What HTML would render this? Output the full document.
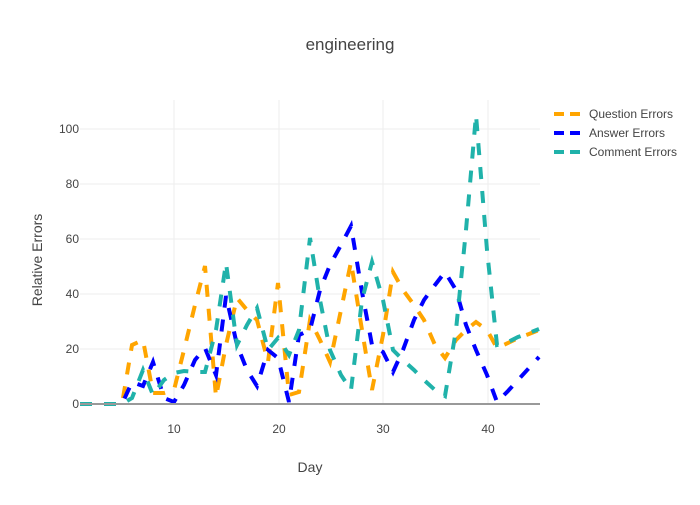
<!DOCTYPE html>
<html><head><meta charset="utf-8"><style>body{margin:0;background:#fff}</style></head><body>
<svg width="700" height="500" xmlns="http://www.w3.org/2000/svg" font-family="'Liberation Sans',sans-serif">
<rect width="700" height="500" fill="#fff"/>
<g stroke="#eee" stroke-width="1">
<line x1="174" y1="100" x2="174" y2="404"/><line x1="279" y1="100" x2="279" y2="404"/><line x1="383" y1="100" x2="383" y2="404"/><line x1="488" y1="100" x2="488" y2="404"/>
<line x1="80" y1="349" x2="540" y2="349"/><line x1="80" y1="294" x2="540" y2="294"/><line x1="80" y1="239" x2="540" y2="239"/><line x1="80" y1="184" x2="540" y2="184"/><line x1="80" y1="129" x2="540" y2="129"/>
</g>
<g fill="none" stroke-width="4" stroke-dasharray="12,12">
<polyline stroke="#FFA500" points="80,404 91,404 101,404 111,404 122,404 132,345 143,340 153,393 164,393 174,390 184,350 195,305 205,266 216,397 226,345 237,298 247,310 257,320 268,362 278,283 289,395 299,392 310,320 320,340 330,362 341,310 351,262 362,330 372,390 383,335 393,272 403,290 414,305 424,320 435,345 445,358 456,340 466,330 476,322 487,330 497,348 508,343 518,338 529,334 539,330"/>
<polyline stroke="#0000FF" points="80,404 91,404 101,404 111,404 122,404 132,382 143,386 153,362 164,398 174,402 184,385 195,360 205,348 216,375 226,296 237,345 247,370 257,386 268,350 278,358 289,402 299,335 310,330 320,290 330,265 341,245 351,226 362,292 372,345 383,352 393,372 403,350 414,320 424,300 435,285 445,272 456,290 466,325 476,350 487,375 497,402 508,391 518,380 529,368 539,357"/>
<polyline stroke="#20B2AA" points="80,404 91,404 101,404 111,404 122,404 132,398 143,370 153,395 164,380 174,373 184,371 195,372 205,372 216,330 226,263 237,345 247,325 257,308 268,350 278,338 289,355 299,330 310,238 320,300 330,350 341,375 351,390 362,300 372,262 383,300 393,350 403,360 414,370 424,380 435,390 445,396 456,330 466,230 476,115 487,250 497,345 508,342 518,337 529,333 539,329"/>
</g>
<line x1="80" y1="404" x2="540" y2="404" stroke="#999" stroke-width="2"/>
<g font-size="12" fill="#444" text-anchor="end">
<text x="79" y="408">0</text><text x="79" y="353">20</text><text x="79" y="298">40</text><text x="79" y="243">60</text><text x="79" y="188">80</text><text x="79" y="133">100</text>
</g>
<g font-size="12" fill="#444" text-anchor="middle">
<text x="174" y="433">10</text><text x="279" y="433">20</text><text x="383" y="433">30</text><text x="488" y="433">40</text>
<text x="310" y="472" font-size="14">Day</text>
<text x="350" y="50" font-size="17">engineering</text>
</g>
<text transform="translate(42,260) rotate(-90)" font-size="14" fill="#444" text-anchor="middle">Relative Errors</text>
<g stroke-width="4" stroke-dasharray="10,6">
<line x1="554" y1="114" x2="584" y2="114" stroke="#FFA500"/>
<line x1="554" y1="133" x2="584" y2="133" stroke="#0000FF"/>
<line x1="554" y1="152" x2="584" y2="152" stroke="#20B2AA"/>
</g>
<g font-size="12" fill="#444">
<text x="589" y="118">Question Errors</text><text x="589" y="137">Answer Errors</text><text x="589" y="156">Comment Errors</text>
</g>
</svg>
</body></html>
